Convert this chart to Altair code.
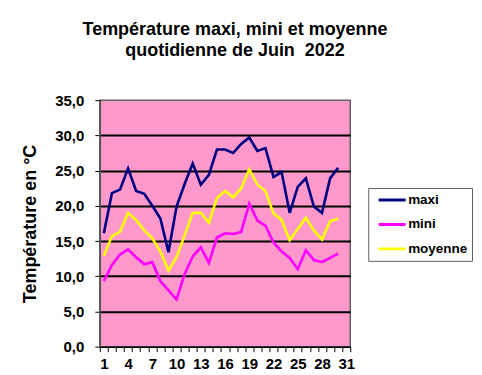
import altair as alt
import pandas as pd

days = list(range(1, 31))
maxi = [16.1, 21.8, 22.3, 25.3, 22.1, 21.7, 20.0, 18.2, 13.4, 19.9,
        23.1, 26.0, 23.0, 24.4, 28.0, 28.0, 27.5, 28.8, 29.7, 27.8,
        28.2, 24.1, 24.8, 19.0, 22.7, 23.9, 19.9, 19.0, 23.9, 25.4]
mini = [9.3, 11.6, 13.1, 13.8, 12.7, 11.7, 12.0, 9.3, 8.0, 6.7,
        10.3, 12.8, 14.1, 11.9, 15.5, 16.1, 16.0, 16.3, 20.3, 17.9,
        17.2, 14.8, 13.5, 12.6, 11.0, 13.7, 12.3, 12.0, 12.6, 13.2]
moyenne = [12.9, 15.7, 16.3, 19.0, 18.0, 16.5, 15.4, 13.5, 10.8, 12.7,
           15.8, 19.0, 19.0, 17.6, 21.1, 22.1, 21.2, 22.5, 25.2, 23.0,
           22.1, 18.9, 18.0, 15.1, 16.7, 18.3, 16.5, 15.2, 17.8, 18.2]
series = ["maxi", "mini", "moyenne"]
colors = ["#000080", "#FF00FF", "#FFFF00"]
day_domain = list(range(1, 32))

rows = []
for name, vals in zip(series, [maxi, mini, moyenne]):
    for d, v in zip(days, vals):
        rows.append({"jour": d, "temp": v, "serie": name})
df = pd.DataFrame(rows)

FONT = "Liberation Sans"

chart = alt.Chart(df).mark_line(strokeWidth=2.6).encode(
    x=alt.X("jour:O",
            scale=alt.Scale(type="band", domain=day_domain, paddingInner=0, paddingOuter=0),
            axis=alt.Axis(title=None, labelAngle=0, tickBand="extent",
                          labelExpr="(datum.value - 1) % 3 == 0 ? datum.label : ''",
                          labelOverlap=False, labelFont=FONT, labelFontSize=15,
                          labelFontWeight="bold", labelColor="black", labelPadding=5,
                          tickColor="black", tickSize=5, domainColor="black",
                          domainWidth=1.5, grid=False)),
    y=alt.Y("temp:Q",
            scale=alt.Scale(domain=[0, 35], nice=False),
            axis=alt.Axis(title="Température en °C", values=[0, 5, 10, 15, 20, 25, 30, 35],
                          labelExpr="replace(format(datum.value, '.1f'), '.', ',')",
                          labelFont=FONT, labelFontSize=15, labelFontWeight="bold",
                          labelColor="black", labelPadding=11, tickColor="black", tickSize=5,
                          domainColor="#555555", domainWidth=1.5,
                          grid=True, gridWidth=2,
                          gridColor=alt.condition("datum.value == 0 || datum.value == 35",
                                                  alt.value("transparent"), alt.value("black")),
                          titleFont=FONT, titleFontSize=18, titleFontWeight="bold",
                          titleColor="black", titlePadding=15)),
    color=alt.Color("serie:N", scale=alt.Scale(domain=series, range=colors),
                    legend=alt.Legend(title=None, orient="none", legendX=269, legendY=88,
                                      symbolType="stroke", symbolSize=729, symbolStrokeWidth=3,
                                      clipHeight=16, rowPadding=8.5, padding=4, symbolOffset=5,
                                      labelFont=FONT, labelFontSize=13.5, labelFontWeight="bold",
                                      labelColor="black", labelOffset=1,
                                      strokeColor="#606060", fillColor="white")),
).properties(
    width=251, height=247,
    title=alt.Title(["Température maxi, mini et moyenne", "quotidienne de Juin\u00a0 2022"],
                    font=FONT, fontSize=18, fontWeight="bold", color="black",
                    anchor="middle", frame="group", dx=10, offset=33, lineHeight=21.5),
    autosize=alt.AutoSizeParams(type="none"),
    padding={"left": 92, "top": 92, "right": 124, "bottom": 27},
).configure(
    background="white"
).configure_view(
    fill="#FF99CC", stroke="#606060", strokeWidth=1.5
)

chart.save("out.html", embed_options={"renderer": "svg", "actions": False})
